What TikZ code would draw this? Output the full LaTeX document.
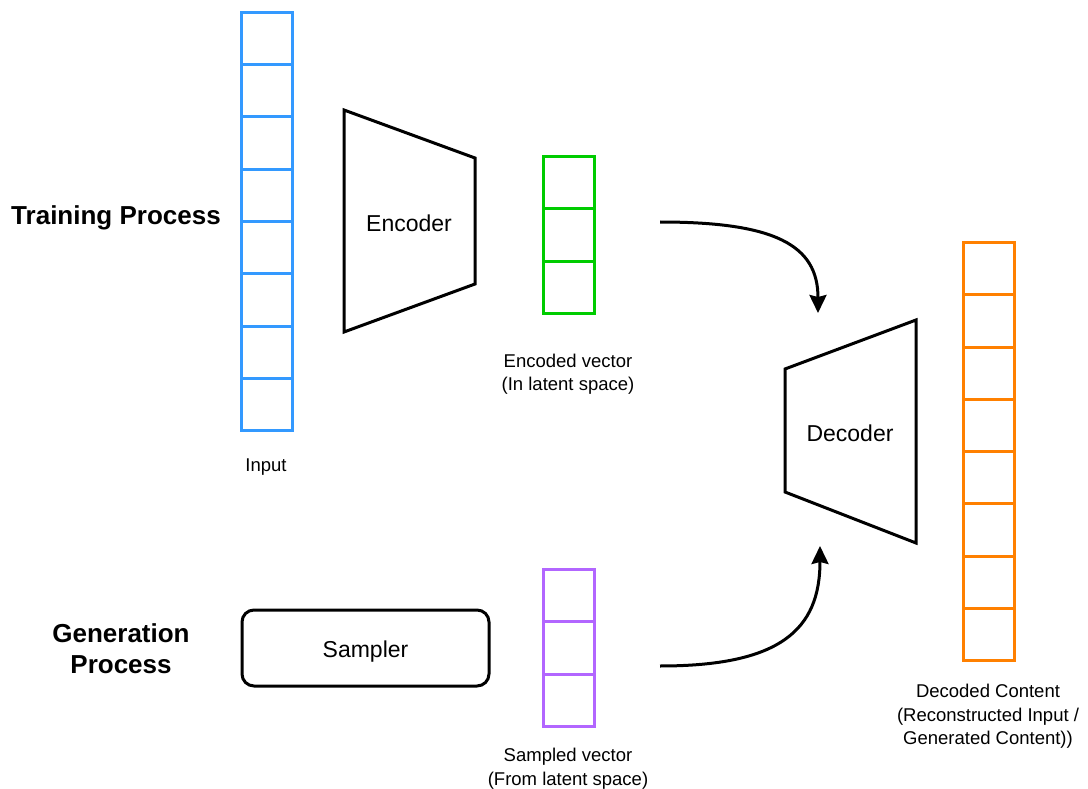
\documentclass[tikz,border=0pt]{standalone}
\usepackage{fontspec}
\setmainfont{Liberation Sans}
\usetikzlibrary{arrows.meta,calc}
\definecolor{vblue}{RGB}{51,153,255}
\definecolor{vgreen}{RGB}{0,204,0}
\definecolor{vpurple}{RGB}{178,102,255}
\definecolor{vorange}{RGB}{255,128,0}
\begin{document}
\begin{tikzpicture}[x=1pt,y=-1pt,
  col/.style={draw, line width=3pt, minimum width=51pt, inner sep=0pt, outer sep=0pt, anchor=north west},
  shapeline/.style={draw=black, line width=3pt, line join=miter},
  lbl/.style={font=\fontsize{18.5}{23.5}\selectfont, align=center, inner sep=0pt},
  big/.style={font=\fontsize{23}{28}\selectfont, inner sep=0pt},
  ttl/.style={font=\fontsize{26}{31}\selectfont\bfseries, align=center, inner sep=0pt},
  conn/.style={line width=3pt, -{Stealth[length=18pt,width=17pt,inset=2pt]}}
]
\useasboundingbox[fill=white] (0,0) rectangle (1088,789);

% columns
\node[col, draw=vblue, minimum height=418pt] (input) at (241.5,12.5) {};
\foreach \i in {1,...,7}
  \draw[vblue, line width=3pt] ($(input.north west)!\i/8!(input.south west)$) -- ($(input.north east)!\i/8!(input.south east)$);

\node[col, draw=vgreen, minimum height=157pt] (enc) at (543.5,156.5) {};
\foreach \i in {1,2}
  \draw[vgreen, line width=3pt] ($(enc.north west)!\i/3!(enc.south west)$) -- ($(enc.north east)!\i/3!(enc.south east)$);

\node[col, draw=vpurple, minimum height=157pt] (samp) at (543.5,569.5) {};
\foreach \i in {1,2}
  \draw[vpurple, line width=3pt] ($(samp.north west)!\i/3!(samp.south west)$) -- ($(samp.north east)!\i/3!(samp.south east)$);

\node[col, draw=vorange, minimum height=418pt] (out) at (963.5,242.5) {};
\foreach \i in {1,...,7}
  \draw[vorange, line width=3pt] ($(out.north west)!\i/8!(out.south west)$) -- ($(out.north east)!\i/8!(out.south east)$);

% encoder / decoder
\draw[shapeline] (344,110) -- (475,158) -- (475,284) -- (344,332) -- cycle;
\node[big] (encoder) at (409,223) {Encoder};
\draw[shapeline] (785,369) -- (916,320) -- (916,543) -- (785,492) -- cycle;
\node[big] (decoder) at (850,433) {Decoder};

% sampler
\node[draw, line width=3pt, rounded corners=12pt, minimum width=247pt, minimum height=76pt, inner sep=0pt] (sampler) at (365.5,648) {};
\node[big] (samplertxt) at (365.5,652) {Sampler};

% labels
\node[ttl] (train) at (116,218) {Training Process};
\node[ttl] (gen) at (121,649) {Generation\\Process};
\node[lbl] (inlbl) at (266,467) {Input};
\node[lbl] (enclbl) at (568,374) {Encoded vector\\(In latent space)};
\node[lbl] (samplbl) at (568,768.5) {Sampled vector\\(From latent space)};
\node[lbl] (outlbl) at (988,716.5) {Decoded Content\\(Reconstructed Input /\\Generated Content))};

% connectors
\coordinate (a1s) at (660,222);
\coordinate (a1e) at (818,313);
\coordinate (a2s) at (660,666);
\coordinate (a2e) at (820,546);
\draw[conn] (a1s) .. controls (775,222) and (818,245) .. (a1e);
\draw[conn] (a2s) .. controls (780,666) and (820,630) .. (a2e);
\end{tikzpicture}
\end{document}
